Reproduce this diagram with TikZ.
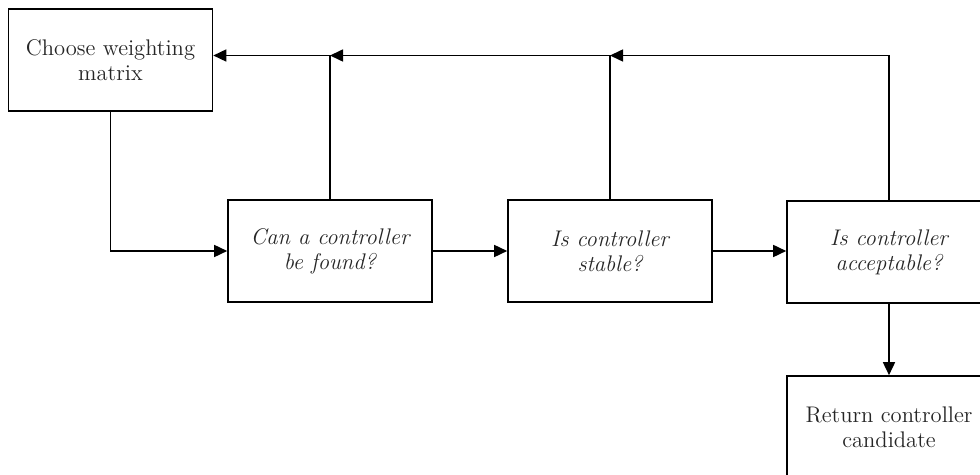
\documentclass[tikz,border=0pt]{standalone}
\usetikzlibrary{arrows.meta}
\begin{document}
\begin{tikzpicture}[x=0.5pt,y=-0.5pt,
  box/.style={draw, line width=0.8pt, minimum width=102pt, minimum height=51pt,
    align=center, inner sep=0pt, text=black!85, font=\fontsize{11.3}{12.5}\selectfont},
  qbox/.style={box, font=\fontsize{11.3}{12.5}\selectfont\itshape},
  arr/.style={line width=0.8pt, -{Triangle[length=6.5pt,width=6pt]}},
  ln/.style={line width=0.8pt}]
\useasboundingbox (0,0) rectangle (980,475);
\clip (0,0) rectangle (980,475);
\node[box] (b1) at (110.5,60) {Choose weighting\\matrix};
\node[qbox] (b2) at (330,251) {Can a controller\\be found?};
\node[qbox] (b3) at (610,251) {Is controller\\stable?};
\node[qbox] (b4) at (889,252) {Is controller\\acceptable?};
\node[box] (b5) at (889,427) {Return controller\\candidate};
\coordinate (j3) at (610,55.5);
\coordinate (j2) at (330,55.5);
\coordinate (j4) at (889,55.5);
\draw[arr] (b1.south) |- (b2.west);
\draw[arr] (b2.east) -- (b3.west);
\draw[arr] (b3.east) -- (b3.east -| b4.west);
\draw[arr] (b4.south) -- (b5.north);
\draw[arr] (b4.north) -- (j4) -- (j3);
\draw[ln] (b3.north) -- (j3);
\draw[arr] (j3) -- (j2);
\draw[ln] (b2.north) -- (j2);
\draw[arr] (j2) -- (b1.east |- j2);
\end{tikzpicture}
\end{document}
